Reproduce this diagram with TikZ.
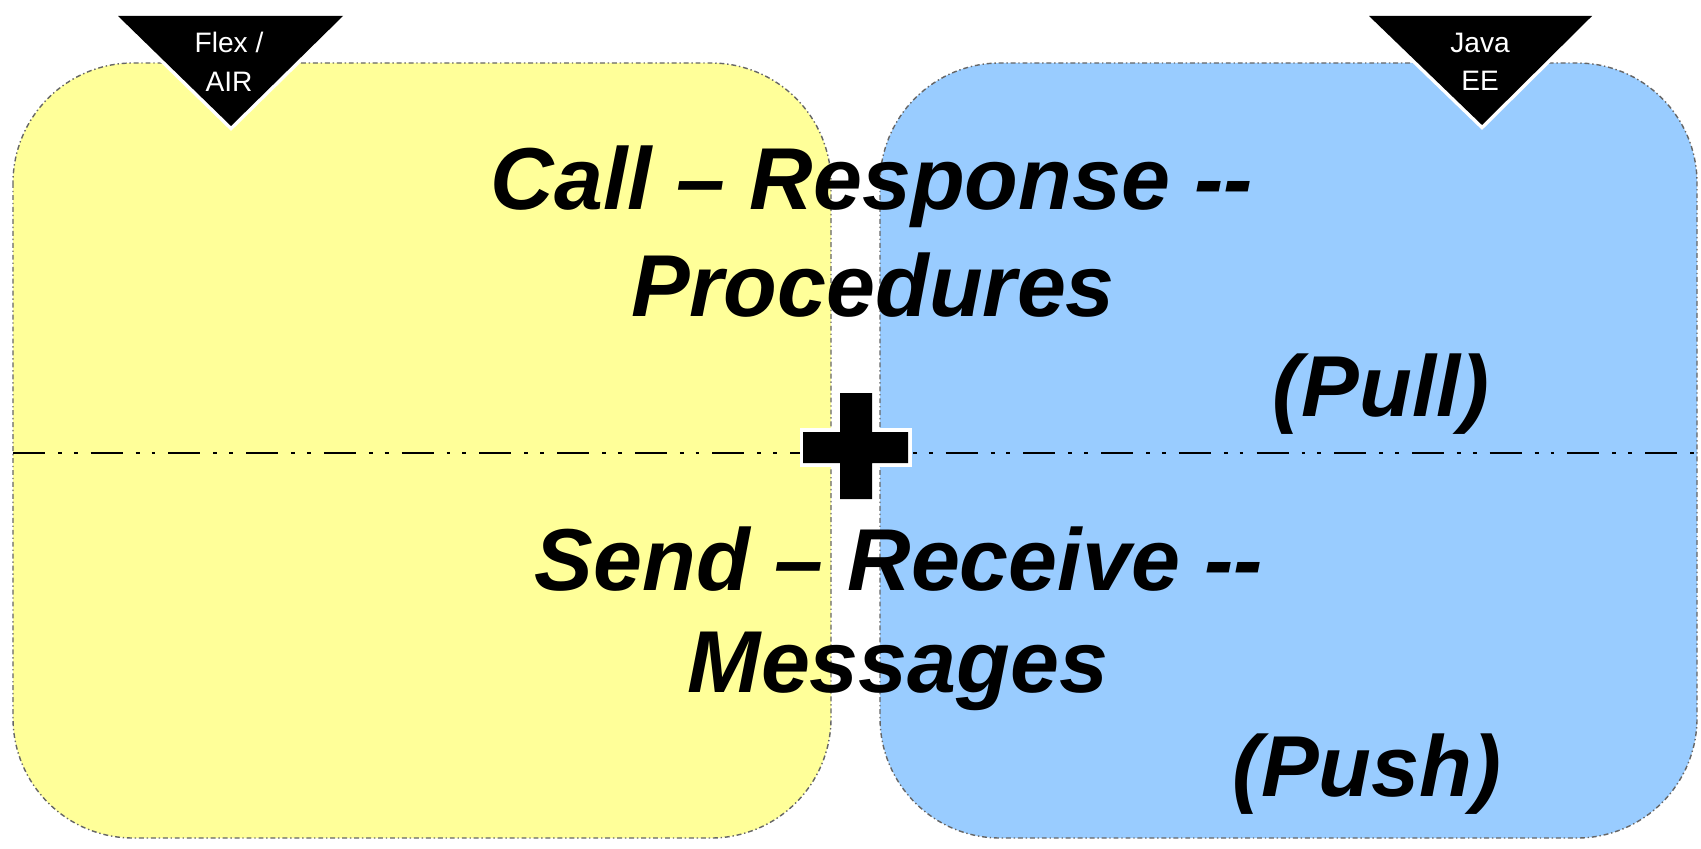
\documentclass[tikz,border=0pt]{standalone}
\usepackage{fontspec}
\setmainfont{Liberation Sans}
\definecolor{flexyellow}{HTML}{FFFF99}
\definecolor{javablue}{HTML}{99CCFF}

\begin{document}
\begin{tikzpicture}[x=0.01cm, y=-0.01cm,
    side/.style={draw=black!60, line width=0.4pt,
        dash pattern=on 1.4pt off 0.8pt on 0.4pt off 0.8pt, rounded corners=1.2cm},
    bigtext/.style={font=\fontsize{25}{30}\selectfont\bfseries\itshape, inner sep=0pt, anchor=base},
    smalltext/.style={font=\fontsize{24.6}{29}\selectfont\bfseries\itshape, inner sep=0pt, anchor=base},
    tagtext/.style={text=white, font=\fontsize{8}{10}\selectfont, inner sep=0pt, anchor=base},
    outlined/.style={fill=black, preaction={draw=white, line width=2pt, line join=miter}}]
    \useasboundingbox (0,0) rectangle (1701,849);

    % the two sides
    \draw[side, fill=flexyellow] (13,63) rectangle (831,838);
    \draw[side, fill=javablue] (880,63) rectangle (1697,838);

    % divider
    \draw[line width=0.85pt, dash pattern=on 9.1pt off 3.7pt on 1.1pt off 3.4pt on 1.1pt off 3.7pt]
        (13,453) -- (1697,453);

    % plus sign
    \path[outlined] (803,432) -- (840,432) -- (840,393) -- (872,393) -- (872,432) -- (908,432)
        -- (908,463) -- (872,463) -- (872,499) -- (840,499) -- (840,463) -- (803,463) -- cycle;

    % tags
    \path[outlined] (118,16) -- (343,16) -- (231,126) -- cycle;
    \path[outlined] (1369,16) -- (1592,16) -- (1482,125) -- cycle;
    \node[tagtext] (flex) at (229,53) {Flex /};
    \node[tagtext] (air) at (229,92) {AIR};
    \node[tagtext] (java) at (1480,53) {Java};
    \node[tagtext] (ee) at (1480,91) {EE};

    % texts
    \node[bigtext] (call) at (872,210) {Call – Response -{}-};
    \node[bigtext] (proc) at (873,317) {Procedures};
    \node[smalltext] (pull) at (1381,416) {(Pull)};
    \node[bigtext] (send) at (899,590) {Send – Receive -{}-};
    \node[bigtext] (msg) at (898,692) {Messages};
    \node[smalltext] (push) at (1367,796) {(Push)};
\end{tikzpicture}
\end{document}
